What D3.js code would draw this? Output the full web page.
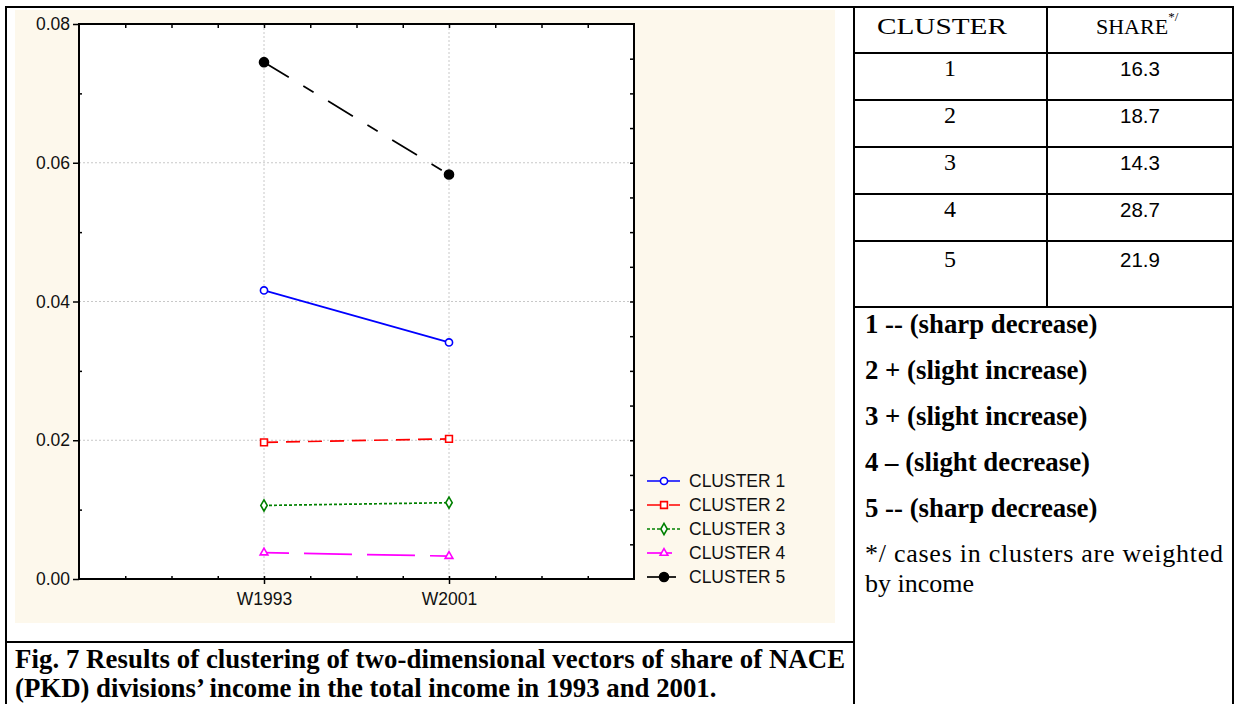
<!DOCTYPE html>
<html>
<head>
<meta charset="utf-8">
<script src="https://cdn.jsdelivr.net/npm/d3@7"></script>
<style>
  body { margin: 0; background: #ffffff; }
  svg { display: block; }
</style>
</head>
<body>
<svg id="fig" width="1237" height="704"></svg>
<script>
// ---- data ----
const categories = ["W1993", "W2001"];
const seriesNames = ["CLUSTER 1", "CLUSTER 2", "CLUSTER 3", "CLUSTER 4", "CLUSTER 5"];
const cluster1 = [0.0416, 0.0341];
const cluster2 = [0.0197, 0.0202];
const cluster3 = [0.0106, 0.0110];
const cluster4 = [0.0038, 0.0033];
const cluster5 = [0.0745, 0.0583];
const yTickValues = [0.00, 0.02, 0.04, 0.06, 0.08];

const tableHeader = ["CLUSTER", "SHARE"];
const tableClusters = ["1", "2", "3", "4", "5"];
const tableShares = ["16.3", "18.7", "14.3", "28.7", "21.9"];
const trendNotes = [
  "1 -- (sharp decrease)",
  "2 + (slight increase)",
  "3 + (slight increase)",
  "4 \u2013 (slight decrease)",
  "5 -- (sharp decrease)"
];
const footnoteLines = ["*/ cases in clusters are weighted", "by income"];
const captionLines = [
  "Fig. 7 Results of clustering of two-dimensional vectors of share of NACE",
  "(PKD) divisions\u2019 income in the total income in 1993 and 2001."
];

// ---- series styles ----
const seriesValues = [cluster1, cluster2, cluster3, cluster4, cluster5];
const seriesStyle = [
  { color: "#0000ff", dash: null, offset: 0, symbol: d3.symbolCircle, size: 40, fill: "#ffffff" },
  { color: "#ff0000", dash: "14,8", offset: 0, symbol: d3.symbolSquare, size: 46, fill: "#ffffff" },
  { color: "#008000", dash: "3,2", offset: 0, symbol: d3.symbolDiamond, size: 36, fill: "#ffffff" },
  { color: "#ff00ff", dash: "48,15", offset: 23, symbol: d3.symbolTriangle, size: 26, fill: "#ffffff" },
  { color: "#000000", dash: "29,17,12,17", offset: 0, symbol: d3.symbolCircle, size: 64, fill: "#000000" }
];

const sans = "'Liberation Sans', Arial, sans-serif";
const serif = "'Liberation Serif', 'Times New Roman', serif";

const svg = d3.select("#fig");

// ---- chart panel ----
const P = { left: 79, right: 634, top: 24, bottom: 579 };
svg.append("rect").attr("x", 15).attr("y", 10).attr("width", 820).attr("height", 613)
  .attr("fill", "#fdf8ec");
svg.append("rect").attr("x", P.left).attr("y", P.top)
  .attr("width", P.right - P.left).attr("height", P.bottom - P.top).attr("fill", "#ffffff");

const y = d3.scaleLinear().domain([0, 0.08]).range([P.bottom, P.top]);
const x = d3.scalePoint().domain(categories).range([P.left, P.right]).padding(1);
const xMinor = d3.scaleLinear().domain([0, 12]).range([P.left, P.right]);

// grid
const grid = svg.append("g").attr("stroke", "#c8c8c8").attr("stroke-width", 1)
  .attr("stroke-dasharray", "2,2");
grid.selectAll("line.gy").data([0.02, 0.04, 0.06]).join("line")
  .attr("x1", P.left).attr("x2", P.right).attr("y1", d => y(d)).attr("y2", d => y(d));
grid.selectAll("line.gx").data(categories).join("line")
  .attr("y1", P.top).attr("y2", P.bottom).attr("x1", d => x(d)).attr("x2", d => x(d));

function styleAxis(g) {
  g.select(".domain").remove();
  g.selectAll(".tick line").attr("stroke", "#000").attr("stroke-width", 1.5);
  g.selectAll(".tick text").attr("fill", "#111").style("font-family", sans).style("font-size", "17.5px");
}

// left: outward major ticks with labels, inward minor ticks
svg.append("g").attr("transform", `translate(${P.left},0)`)
  .call(d3.axisLeft(y).tickValues(yTickValues).tickSize(6).tickPadding(3).tickFormat(d3.format(".2f")))
  .call(styleAxis);
svg.append("g").attr("transform", `translate(${P.left},0)`)
  .call(d3.axisRight(y).tickValues([0.01, 0.03, 0.05, 0.07]).tickSize(3).tickFormat(""))
  .call(styleAxis);
// right: inward ticks every 0.005
svg.append("g").attr("transform", `translate(${P.right},0)`)
  .call(d3.axisLeft(y).tickValues(d3.range(1, 16).map(i => i * 0.005)).tickSize(4).tickFormat(""))
  .call(styleAxis);
// top: inward minor ticks
svg.append("g").attr("transform", `translate(0,${P.top})`)
  .call(d3.axisBottom(xMinor).tickValues(d3.range(1, 12)).tickSize(4).tickFormat(""))
  .call(styleAxis);
// bottom: inward minor ticks + category ticks with labels
svg.append("g").attr("transform", `translate(0,${P.bottom})`)
  .call(d3.axisTop(xMinor).tickValues(d3.range(1, 12)).tickSize(3).tickFormat(""))
  .call(styleAxis);
svg.append("g").attr("transform", `translate(0,${P.bottom})`)
  .call(d3.axisBottom(x).tickSize(5).tickPadding(9))
  .call(styleAxis);

// frame
svg.append("rect").attr("x", P.left).attr("y", P.top)
  .attr("width", P.right - P.left).attr("height", P.bottom - P.top)
  .attr("fill", "none").attr("stroke", "#000").attr("stroke-width", 2);

// lines and markers
const line = d3.line().x((d, i) => x(categories[i])).y(d => y(d));
const seriesG = svg.append("g");
[4, 0, 1, 2, 3].forEach(k => {
  const s = seriesStyle[k];
  const g = seriesG.append("g");
  g.append("path").datum(seriesValues[k]).attr("d", line)
    .attr("fill", "none").attr("stroke", s.color).attr("stroke-width", 1.7)
    .attr("stroke-dasharray", s.dash).attr("stroke-dashoffset", s.offset);
  g.selectAll("path.m").data(seriesValues[k]).join("path")
    .attr("transform", (d, i) => `translate(${x(categories[i])},${y(d)})`)
    .attr("d", d3.symbol().type(s.symbol).size(s.size))
    .attr("fill", s.fill).attr("stroke", s.color).attr("stroke-width", 1.6);
});

// legend
const legend = svg.append("g").attr("transform", "translate(647,481)");
seriesNames.forEach((name, k) => {
  const s = seriesStyle[k];
  const row = legend.append("g").attr("transform", `translate(0,${k * 24})`);
  row.append("line").attr("x1", 0).attr("x2", 33).attr("y1", 0).attr("y2", 0)
    .attr("stroke", s.color).attr("stroke-width", 1.7)
    .attr("stroke-dasharray", s.dash).attr("stroke-dashoffset", s.offset);
  row.append("path").attr("transform", "translate(17,0)")
    .attr("d", d3.symbol().type(s.symbol).size(s.size))
    .attr("fill", s.fill).attr("stroke", s.color).attr("stroke-width", 1.6);
  row.append("text").attr("x", 42).attr("y", 6.3).text(name)
    .attr("fill", "#111").style("font-family", sans).style("font-size", "17.5px");
});

// ---- caption ----
const cap = svg.append("g").style("font-family", serif).style("font-weight", "bold")
  .style("font-size", "26.8px").attr("fill", "#000");
cap.append("text").attr("x", 15).attr("y", 668).text(captionLines[0])
  .attr("textLength", 830).attr("lengthAdjust", "spacing");
cap.append("text").attr("x", 15).attr("y", 697).text(captionLines[1]);

// ---- frame lines ----
const frame = svg.append("g").attr("stroke", "#000").attr("stroke-width", 2);
const rowLines = [53, 100, 147, 194, 241, 307];
frame.append("line").attr("x1", 5).attr("x2", 1234).attr("y1", 7).attr("y2", 7);
frame.append("line").attr("x1", 6).attr("x2", 6).attr("y1", 7).attr("y2", 704);
frame.append("line").attr("x1", 6).attr("x2", 854).attr("y1", 642).attr("y2", 642);
frame.append("line").attr("x1", 854).attr("x2", 854).attr("y1", 7).attr("y2", 704);
frame.append("line").attr("x1", 1233).attr("x2", 1233).attr("y1", 7).attr("y2", 704);
frame.append("line").attr("x1", 1047).attr("x2", 1047).attr("y1", 7).attr("y2", rowLines[rowLines.length - 1]);
frame.selectAll("line.r").data(rowLines).join("line")
  .attr("x1", 854).attr("x2", 1233).attr("y1", d => d).attr("y2", d => d);

// ---- table ----
const tbl = svg.append("g");
tbl.append("text").attr("x", 877).attr("y", 34).text(tableHeader[0])
  .attr("textLength", 130).attr("lengthAdjust", "spacingAndGlyphs")
  .style("font-family", serif).style("font-size", "22.5px");
const share = tbl.append("text").attr("x", 1096).attr("y", 34)
  .style("font-family", serif).style("font-size", "22px");
share.append("tspan").text(tableHeader[1]);
share.append("tspan").attr("dy", -13).style("font-size", "13px").text("*/");

const rowBase = [76, 123, 170, 217, 267];
tableClusters.forEach((c, i) => {
  tbl.append("text").attr("x", 950).attr("y", rowBase[i]).attr("text-anchor", "middle")
    .style("font-family", serif).style("font-size", "24px").text(c);
  tbl.append("text").attr("x", 1140).attr("y", rowBase[i]).attr("text-anchor", "middle")
    .style("font-family", sans).style("font-size", "20.5px").text(tableShares[i]);
});

// trend notes
const noteBase = [333, 379, 425, 471, 517];
trendNotes.forEach((t, i) => {
  tbl.append("text").attr("x", 865).attr("y", noteBase[i]).text(t)
    .style("font-family", serif).style("font-weight", "bold").style("font-size", "26.8px");
});
tbl.append("text").attr("x", 865).attr("y", 562).text(footnoteLines[0])
  .attr("textLength", 358).attr("lengthAdjust", "spacing")
  .style("font-family", serif).style("font-size", "26px");
tbl.append("text").attr("x", 865).attr("y", 592).text(footnoteLines[1])
  .style("font-family", serif).style("font-size", "26px");
</script>
</body>
</html>
